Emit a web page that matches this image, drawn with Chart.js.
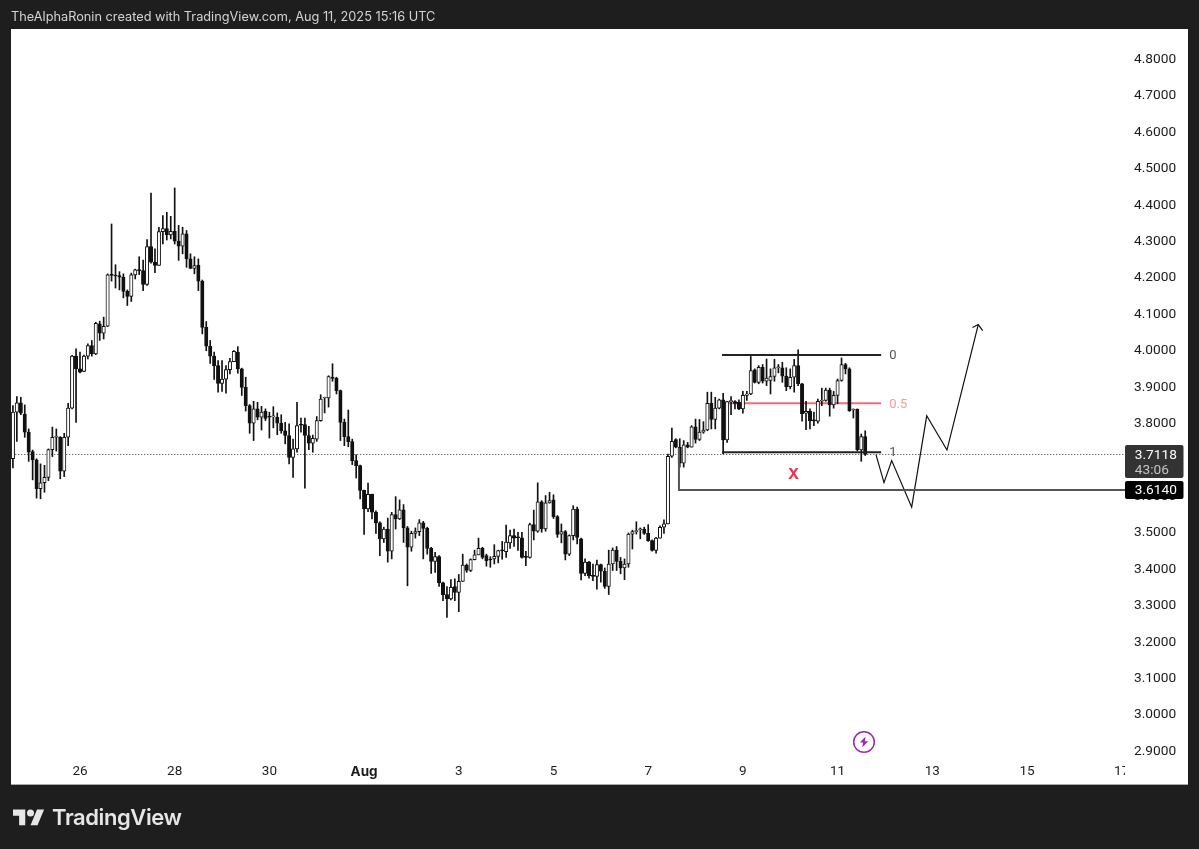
<!DOCTYPE html>
<html>
<head>
<meta charset="utf-8">
<title>TheAlphaRonin chart</title>
<script src="https://cdn.jsdelivr.net/npm/chart.js@4/dist/chart.umd.min.js"></script>
<style>
html,body{margin:0;padding:0;width:1199px;height:849px;overflow:hidden;background:#1e1e1e}
#panel{position:absolute;left:11px;top:29px;width:1177px;height:755px;background:#fff;box-shadow:0 1px 0 #aaa}
canvas{position:absolute;left:0;top:0;filter:blur(.35px)}
#head{position:absolute;left:11px;top:9px;font:12.75px Inter,sans-serif;color:#d4d4d4;white-space:nowrap}
#logoText{position:absolute;left:52px;top:803.5px;font:600 22px Inter,sans-serif;color:#e6e6e6;letter-spacing:-.4px;white-space:nowrap}
#logo{position:absolute;left:12.7px;top:805.5px}
#bolt{position:absolute;left:852px;top:730px}
</style>
</head>
<body>
<div id="panel"></div>
<canvas id="c" width="1199" height="849"></canvas>
<div id="head">TheAlphaRonin created with TradingView.com, Aug 11, 2025 15:16 UTC</div>
<svg id="logo" width="31.5" height="22.75" viewBox="0 0 36 26"><path fill="#e6e6e6" d="M14 22H7V11H0V4h14v18zM28 22h-8l7.5-18h8L28 22z"/><circle fill="#e6e6e6" cx="20" cy="8" r="4"/></svg>
<div id="logoText">TradingView</div>
<svg id="bolt" width="24" height="24" viewBox="0 0 24 24"><circle cx="12" cy="12" r="10.3" fill="#fff" stroke="#9c27b0" stroke-width="1.5"/><path fill="#9c27b0" d="M13.6 6.6 7.8 12.6h3.4l-1 4.8 6-6.2h-3.4z"/></svg>
<script>
// 2-hour candles, first one Jul 24 14:00 (day numbers counted from Jul 1 00:00)
const firstCandleDay = 24 + 14 / 24;
const candleStepDays = 2 / 24;

const opens = [
3.700,3.828,3.854,3.823,3.773,3.720,3.697,3.618,3.634,3.649,
3.725,3.759,3.759,3.666,3.759,3.839,3.982,3.947,3.940,3.982,
4.011,3.988,4.071,4.045,4.064,4.205,4.204,4.203,4.199,4.160,
4.146,4.205,4.219,4.217,4.179,4.283,4.240,4.231,4.324,4.332,
4.315,4.325,4.298,4.284,4.318,4.249,4.223,4.232,4.188,4.061,
4.009,3.982,3.956,3.907,3.919,3.945,3.967,3.993,3.947,3.896,
3.846,3.798,3.837,3.814,3.830,3.815,3.815,3.814,3.798,3.777,
3.764,3.704,3.727,3.794,3.794,3.764,3.743,3.754,3.805,3.867,
3.867,3.924,3.921,3.887,3.800,3.761,3.747,3.695,3.681,3.613,
3.562,3.602,3.553,3.524,3.480,3.507,3.446,3.547,3.535,3.560,
3.510,3.457,3.495,3.500,3.524,3.509,3.454,3.418,3.431,3.359,
3.327,3.315,3.349,3.333,3.363,3.408,3.393,3.423,3.436,3.454,
3.434,3.423,3.425,3.432,3.448,3.445,3.469,3.489,3.484,3.483,
3.430,3.429,3.519,3.501,3.582,3.507,3.579,3.587,3.541,3.493,
3.500,3.438,3.489,3.562,3.480,3.385,3.416,3.379,3.377,3.409,
3.391,3.349,3.411,3.449,3.418,3.400,3.411,3.493,3.500,3.505,
3.507,3.495,3.475,3.448,3.482,3.512,3.521,3.707,3.753,3.732,
3.688,3.738,3.732,3.788,3.753,3.773,3.779,3.852,3.808,3.839,
3.862,3.752,3.857,3.857,3.855,3.837,3.874,3.878,3.944,3.910,
3.951,3.913,3.915,3.926,3.950,3.950,3.927,3.898,3.924,3.956,
3.906,3.825,3.830,3.805,3.803,3.858,3.860,3.889,3.848,3.874,
3.915,3.959,3.947,3.834,3.836,3.724,3.761];

const closes = [
3.828,3.854,3.825,3.773,3.718,3.697,3.618,3.634,3.649,3.725,
3.759,3.760,3.666,3.759,3.839,3.982,3.947,3.938,3.982,4.011,
3.988,4.072,4.045,4.064,4.205,4.204,4.202,4.199,4.160,4.146,
4.205,4.219,4.217,4.179,4.283,4.240,4.231,4.324,4.332,4.315,
4.325,4.298,4.284,4.318,4.249,4.223,4.231,4.188,4.061,4.009,
3.982,3.956,3.907,3.919,3.945,3.967,3.995,3.947,3.896,3.846,
3.798,3.837,3.814,3.828,3.811,3.814,3.816,3.798,3.777,3.764,
3.704,3.727,3.791,3.792,3.764,3.743,3.756,3.805,3.864,3.868,
3.926,3.921,3.887,3.800,3.761,3.747,3.695,3.681,3.613,3.562,
3.602,3.553,3.524,3.480,3.507,3.446,3.547,3.535,3.560,3.510,
3.457,3.495,3.500,3.524,3.509,3.454,3.418,3.431,3.359,3.327,
3.315,3.347,3.333,3.363,3.408,3.393,3.423,3.436,3.454,3.429,
3.420,3.422,3.432,3.448,3.447,3.471,3.489,3.482,3.483,3.429,
3.429,3.519,3.501,3.582,3.507,3.579,3.585,3.541,3.492,3.500,
3.438,3.489,3.562,3.484,3.385,3.416,3.379,3.377,3.409,3.391,
3.349,3.411,3.449,3.418,3.400,3.411,3.493,3.500,3.502,3.507,
3.495,3.475,3.448,3.482,3.512,3.521,3.707,3.748,3.732,3.688,
3.738,3.732,3.788,3.753,3.773,3.779,3.852,3.808,3.839,3.862,
3.752,3.857,3.858,3.852,3.837,3.874,3.878,3.942,3.910,3.951,
3.913,3.922,3.926,3.950,3.951,3.927,3.898,3.924,3.956,3.906,
3.823,3.830,3.805,3.804,3.858,3.860,3.889,3.848,3.874,3.915,
3.959,3.947,3.832,3.836,3.724,3.761,3.7118];

const highs = [
3.846,3.871,3.869,3.848,3.782,3.724,3.700,3.686,3.682,3.727,
3.787,3.782,3.761,3.770,3.852,3.984,4.002,3.993,3.985,4.016,
4.025,4.075,4.078,4.089,4.208,4.345,4.233,4.214,4.208,4.164,
4.210,4.221,4.255,4.246,4.302,4.430,4.277,4.336,4.368,4.377,
4.366,4.444,4.341,4.336,4.327,4.263,4.255,4.249,4.191,4.077,
4.025,3.993,3.970,3.970,3.956,3.976,3.997,4.008,3.949,3.924,
3.849,3.858,3.855,3.844,3.837,3.828,3.843,3.826,3.821,3.800,
3.796,3.754,3.855,3.812,3.812,3.789,3.765,3.816,3.876,3.869,
3.928,3.961,3.924,3.889,3.809,3.834,3.754,3.711,3.683,3.614,
3.633,3.603,3.557,3.527,3.512,3.537,3.553,3.596,3.587,3.574,
3.514,3.501,3.510,3.533,3.528,3.512,3.457,3.443,3.434,3.361,
3.349,3.368,3.370,3.382,3.438,3.411,3.425,3.449,3.482,3.457,
3.438,3.431,3.464,3.449,3.473,3.518,3.504,3.507,3.498,3.498,
3.446,3.523,3.559,3.634,3.585,3.599,3.608,3.601,3.544,3.521,
3.503,3.491,3.571,3.567,3.482,3.425,3.418,3.411,3.422,3.411,
3.400,3.449,3.455,3.459,3.429,3.425,3.496,3.504,3.527,3.510,
3.512,3.519,3.477,3.484,3.516,3.532,3.713,3.784,3.755,3.755,
3.750,3.745,3.791,3.809,3.808,3.802,3.883,3.883,3.869,3.864,
3.880,3.858,3.871,3.860,3.862,3.885,3.885,3.981,3.947,3.956,
3.959,3.974,3.947,3.973,3.959,3.965,3.950,3.947,3.973,3.999,
3.907,3.858,3.837,3.828,3.864,3.894,3.894,3.894,3.885,3.919,
3.977,3.962,3.950,3.837,3.837,3.768,3.777];

const lows = [
3.675,3.748,3.821,3.759,3.693,3.642,3.592,3.590,3.608,3.640,
3.706,3.721,3.645,3.651,3.736,3.837,3.800,3.936,3.939,3.974,
3.982,3.986,4.025,4.029,4.063,4.188,4.169,4.164,4.142,4.121,
4.132,4.194,4.206,4.162,4.176,4.237,4.211,4.231,4.290,4.301,
4.304,4.290,4.245,4.263,4.226,4.222,4.208,4.162,4.043,3.997,
3.962,3.918,3.883,3.885,3.880,3.933,3.968,3.935,3.874,3.831,
3.770,3.750,3.807,3.779,3.805,3.757,3.785,3.766,3.770,3.741,
3.686,3.649,3.718,3.773,3.619,3.725,3.718,3.748,3.803,3.826,
3.842,3.913,3.878,3.750,3.736,3.733,3.684,3.647,3.590,3.492,
3.555,3.535,3.495,3.434,3.470,3.416,3.425,3.507,3.533,3.470,
3.351,3.446,3.482,3.489,3.425,3.438,3.385,3.388,3.349,3.310,
3.264,3.312,3.310,3.280,3.363,3.388,3.390,3.422,3.436,3.425,
3.405,3.402,3.411,3.414,3.424,3.429,3.454,3.459,3.448,3.427,
3.406,3.427,3.477,3.498,3.498,3.501,3.578,3.536,3.484,3.469,
3.422,3.434,3.477,3.466,3.367,3.379,3.372,3.365,3.342,3.361,
3.344,3.327,3.393,3.393,3.384,3.368,3.402,3.452,3.493,3.480,
3.492,3.473,3.446,3.441,3.482,3.495,3.521,3.704,3.730,3.677,
3.677,3.730,3.732,3.743,3.750,3.770,3.777,3.782,3.782,3.837,
3.713,3.745,3.821,3.837,3.835,3.825,3.860,3.876,3.908,3.906,
3.908,3.901,3.878,3.913,3.936,3.910,3.887,3.892,3.883,3.901,
3.803,3.780,3.782,3.791,3.798,3.846,3.858,3.817,3.839,3.851,
3.913,3.933,3.830,3.812,3.722,3.693,3.709];

// Axis ticks
const priceTicks = [2.9,3.0,3.1,3.2,3.3,3.4,3.5,3.6,3.7,3.8,3.9,4.0,4.1,4.2,4.3,4.4,4.5,4.6,4.7,4.8];
const dayTicks = [26,28,30,32,34,36,38,40,42,44,46,48];
const dayTickLabels = ['26','28','30','Aug','3','5','7','9','11','13','15','17'];

// Drawings (day, price)
const fibStart = 39.56, fibEnd = 42.92;
const fibLevels = [3.9853, 3.8525, 3.718];
const fibNames = ['0', '0.5', '1'];
const lastPrice = 3.7118;
const countdown = '43:06';
const targetPrice = 3.6140;
const targetPath = [{x:38.65,y:3.73},{x:38.65,y:3.6140},{x:48.2,y:3.6140}];
const forecastPath = [{x:42.811,y:3.7115},{x:42.980,y:3.6346},{x:43.143,y:3.695},{x:43.565,y:3.567},{x:43.882,y:3.818},{x:44.31,y:3.724},{x:44.971,y:4.0687}];
const arrowHead = [{x:44.849,y:4.0604},{x:44.971,y:4.0687},{x:45.064,y:4.052}];
const markX = {x:41.068, y:3.6565, text:'X'};

const candleX = opens.map((_, i) => firstCandleDay + i * candleStepDays);
const wicks = candleX.map((x, i) => ({x, y:[lows[i], highs[i]]}));
const bodies = candleX.map((x, i) => ({x, y:[opens[i], closes[i]]}));
const isUp = i => closes[i] >= opens[i];
const FONT = 'Inter, sans-serif';
const NUM_FONT = 'Roboto, sans-serif';

function line(data, color, width, extra) {
  return Object.assign({type:'line', data, borderColor:color, borderWidth:width, pointRadius:0, tension:0, fill:false, order:1}, extra || {});
}

// nudge the price labels so they sit at the reference's optical centre
function nudgeLabels(axis, dy) {
  if (axis._nudged) return;
  axis._nudged = true;
  const draw = axis.drawLabels;
  axis.drawLabels = function (area) {
    const c = this.ctx; c.save(); c.translate(0, dy); draw.call(this, area); c.restore();
  };
}

const overlay = {
  id:'overlay',
  afterDraw(chart) {
    const {ctx, scales:{x, y}} = chart;
    ctx.save();
    // the time axis is cut by the price axis
    ctx.fillStyle = '#fff';
    ctx.fillRect(x.right, 762, 7, 22);
    ctx.textBaseline = 'middle';
    ctx.textAlign = 'left';
    ctx.font = '13px ' + NUM_FONT;
    const nameColors = ['#555', '#f49aa0', '#555'];
    fibNames.forEach((n, i) => {
      ctx.fillStyle = nameColors[i];
      ctx.fillText(n, x.getPixelForValue(fibEnd) + 8, y.getPixelForValue(fibLevels[i]) + 1);
    });
    ctx.fillStyle = '#e8304a';
    ctx.textAlign = 'center';
    ctx.font = 'bold 15px ' + FONT;
    ctx.fillText(markX.text, x.getPixelForValue(markX.x), y.getPixelForValue(markX.y));
    // price tags
    const py = y.getPixelForValue(lastPrice);
    ctx.fillStyle = '#333';
    ctx.beginPath(); ctx.roundRect(1125, 445, 58.5, 33, 2); ctx.fill();
    ctx.textAlign = 'left';
    ctx.font = '13.7px ' + NUM_FONT;
    ctx.fillStyle = '#fff';
    ctx.fillText(lastPrice.toFixed(4), 1134.8, py + 0.8);
    ctx.fillStyle = '#c4c4c4';
    ctx.fillText(countdown, 1134.8, py + 15.8);
    const ty = y.getPixelForValue(targetPrice);
    ctx.fillStyle = '#000';
    ctx.beginPath(); ctx.roundRect(1125, 481, 58.5, 18, 2); ctx.fill();
    ctx.fillStyle = '#fff';
    ctx.fillText(targetPrice.toFixed(4), 1134.8, ty + 0.5);
    ctx.restore();
  }
};

new Chart(document.getElementById('c'), {
  type:'bar',
  data:{
    datasets:[
      line([{x:24,y:lastPrice},{x:49,y:lastPrice}], '#333', 1, {borderDash:[1,2], order:5}),
      line([{x:fibStart,y:fibLevels[1]},{x:fibEnd,y:fibLevels[1]}], '#f26d78', 2.2, {order:4}),
      {type:'bar', data:wicks, grouped:false, barThickness:1, backgroundColor:'#111', borderWidth:0, order:3},
      {type:'bar', data:bodies, grouped:false, barThickness:3.4, minBarLength:1, borderSkipped:false, borderWidth:1,
        borderColor:'#111', backgroundColor:bodies.map((_, i) => isUp(i) ? '#fff' : '#111'), order:2},
      line([{x:fibStart,y:fibLevels[0]},{x:fibEnd,y:fibLevels[0]}], '#222', 2),
      line([{x:fibStart,y:fibLevels[2]},{x:fibEnd,y:fibLevels[2]}], '#222', 2),
      line(targetPath, '#555', 2),
      line(forecastPath, '#111', 1.2),
      line(arrowHead, '#111', 1.2)
    ]
  },
  options:{
    responsive:false,
    animation:false,
    events:[],
    layout:{padding:{left:11, top:29, right:11, bottom:65}},
    plugins:{legend:{display:false}, tooltip:{enabled:false}},
    scales:{
      x:{
        type:'linear', min:24.543, max:48.07, offset:false,
        grid:{display:false, drawTicks:false}, border:{display:false},
        afterBuildTicks(axis){ axis.ticks = dayTicks.map(value => ({value})); },
        afterFit(axis){ axis.height = 24; },
        ticks:{
          autoSkip:false, maxRotation:0, padding:4, color:'#1c1c1c',
          font:ctx => ({family: ctx.tick && ctx.tick.value === 32 ? FONT : NUM_FONT, size:13.5, weight: ctx.tick && ctx.tick.value === 32 ? '700' : '400'}),
          callback:value => dayTickLabels[dayTicks.indexOf(value)]
        }
      },
      y:{
        type:'linear', position:'right', min:2.8725, max:4.8806,
        grid:{display:false, drawTicks:false}, border:{display:false},
        afterBuildTicks(axis){ axis.ticks = priceTicks.map(value => ({value})); nudgeLabels(axis, 1.3); },
        afterFit(axis){ axis.width = 63; },
        ticks:{
          autoSkip:false, padding:9, color:'#1c1c1c', font:{family:NUM_FONT, size:13.7},
          callback:value => value.toFixed(4)
        }
      }
    }
  },
  plugins:[overlay]
});
</script>
</body>
</html>
